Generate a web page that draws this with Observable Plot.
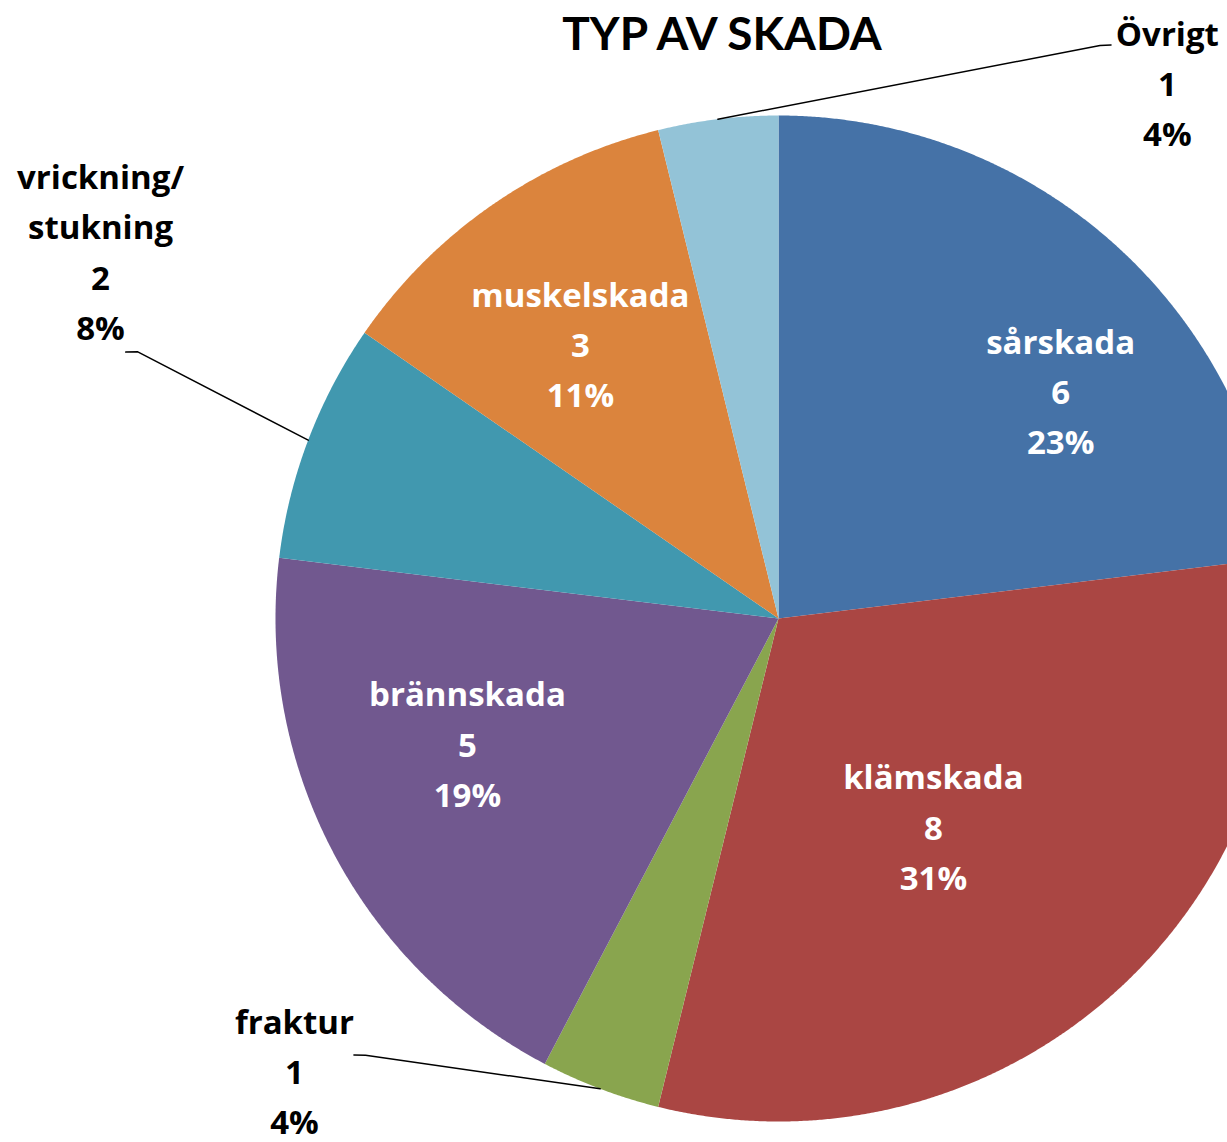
<!DOCTYPE html>
<html><head><meta charset="utf-8">
<script src="https://cdn.jsdelivr.net/npm/d3@7"></script>
<script src="https://cdn.jsdelivr.net/npm/@observablehq/plot@0.6"></script>
<style>
body{margin:0;background:#fff;font-family:Lato,"Open Sans",sans-serif;}
#wrap{position:relative;width:1227px;height:1142px;overflow:hidden;}
#title{position:absolute;left:0;top:6px;width:1444px;text-align:center;font-size:46px;font-weight:bold;line-height:54px;color:#000;z-index:2;}
#chart{position:absolute;left:0;top:0;}
</style></head><body>
<div id="wrap"><div id="title">TYP AV SKADA</div><div id="chart"></div></div>
<script>
// ---- data ----
const categories = ["sårskada","klämskada","fraktur","brännskada","vrickning/stukning","muskelskada","Övrigt"];
const values = [6, 8, 1, 5, 2, 3, 1];
const percentLabels = ["23%","31%","4%","19%","8%","11%","4%"];

// ---- style / layout ----
const colors = ["#4572A7","#AA4643","#89A54E","#71588F","#4198AF","#DB843D","#93C3D7"];
const W = 1227, H = 1142, CX = 778, CY = 618, R = 503;
// label anchors in polar form: [angle (deg, clockwise from top), radius (px)], inside=white text
const labelLayout = {
  "sårskada":           {pos:[51.4, 361], inside:true},
  "klämskada":          {pos:[143.6, 261], inside:true},
  "brännskada":         {pos:[247.8, 336], inside:true},
  "muskelskada":        {pos:[324.0, 337], inside:true},
  "Övrigt":             {pos:[36.1, 660], inside:false, elbow:[29.3, 657], end:[30.1, 663]},
  "vrickning/stukning": {pos:[298.3, 770], inside:false, elbow:[292.6, 694], end:[292.2, 705]},
  "fraktur":            {pos:[226.8, 664], inside:false, elbow:[223.4, 601], end:[224.2, 609]}
};
const font = "'Open Sans', Lato, sans-serif";

const rows = categories.map((name, i) => ({name, value: values[i], pct: percentLabels[i]}));
const arcs = d3.pie().sort(null).value(d => d.value)(rows);
const polar = (deg, r) => ({x: r * Math.sin(deg * Math.PI / 180), y: r * Math.cos(deg * Math.PI / 180)});

// slice polygons
const slicePts = [];
arcs.forEach(a => {
  slicePts.push({name: a.data.name, x: 0, y: 0});
  const n = Math.max(2, Math.ceil((a.endAngle - a.startAngle) / 0.004));
  for (let k = 0; k <= n; k++) {
    const t = a.startAngle + (a.endAngle - a.startAngle) * k / n;
    slicePts.push({name: a.data.name, x: R * Math.sin(t), y: R * Math.cos(t)});
  }
});

// labels
const labels = arcs.map(a => {
  const L = labelLayout[a.data.name];
  const p = polar(L.pos[0], L.pos[1]);
  return {name: a.data.name, x: p.x, y: p.y, inside: L.inside,
    text: a.data.name.replace("/", "/\n") + "\n" + a.data.value + "\n" + a.data.pct};
});

// leader lines for outside labels
const leaders = [];
arcs.forEach(a => {
  const L = labelLayout[a.data.name];
  if (L.inside) return;
  const mid = (a.startAngle + a.endAngle) / 2;
  leaders.push({name: a.data.name, x: R * Math.sin(mid), y: R * Math.cos(mid)});
  const e = polar(L.elbow[0], L.elbow[1]);
  leaders.push({name: a.data.name, ...e});
  const f = polar(L.end[0], L.end[1]);
  leaders.push({name: a.data.name, ...f});
});

const textOpts = {x: "x", y: "y", text: "text", dy: -5, fontSize: 33, fontWeight: "bold", lineHeight: 1.52, fontFamily: font};
const chart = Plot.plot({
  width: W, height: H,
  margin: 0,
  x: {domain: [-CX, W - CX], range: [0, W], axis: null},
  y: {domain: [CY, CY - H], range: [0, H], axis: null},
  color: {domain: categories, range: colors},
  style: {background: "transparent", fontFamily: font},
  marks: [
    Plot.line(slicePts, {x: "x", y: "y", z: "name", fill: "name", stroke: "none"}),
    Plot.line(leaders, {x: "x", y: "y", z: "name", stroke: "#000", strokeWidth: 1.5}),
    Plot.text(labels.filter(d => d.inside), {...textOpts, fill: "#fff"}),
    Plot.text(labels.filter(d => !d.inside), {...textOpts, fill: "#000"})
  ]
});
document.getElementById("chart").appendChild(chart);
</script>
</body></html>
